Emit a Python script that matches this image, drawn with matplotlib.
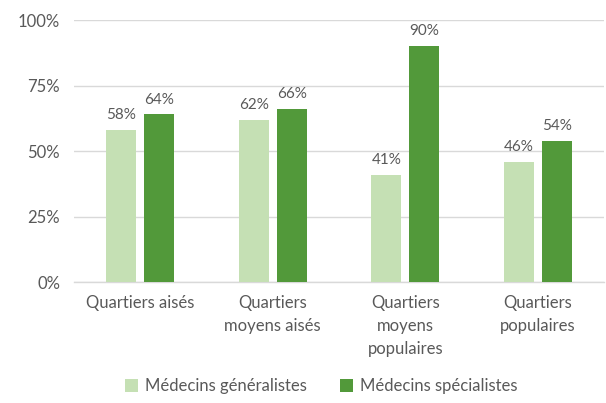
import numpy as np
import matplotlib
matplotlib.use("Agg")
import matplotlib.pyplot as plt

# Data
categories = ["Quartiers aisés", "Quartiers\nmoyens aisés", "Quartiers\nmoyens\npopulaires", "Quartiers\npopulaires"]
generalistes = [58, 62, 41, 46]
specialistes = [64, 66, 90, 54]
series_names = ["Médecins généralistes", "Médecins spécialistes"]
yticks = [0, 25, 50, 75, 100]

LIGHT = "#C5E0B4"
DARK = "#52993A"
TEXT = "#595959"

plt.rcParams["font.family"] = ["Lato", "DejaVu Sans"]

fig = plt.figure(figsize=(6.06, 4.03), dpi=100)
ax = fig.add_axes([0.122, 0.300, 0.875, 0.650])

x = np.arange(len(categories))
w = 0.225
off = 0.143
b1 = ax.bar(x - off, generalistes, w, color=LIGHT, label=series_names[0], zorder=3)
b2 = ax.bar(x + off, specialistes, w, color=DARK, label=series_names[1], zorder=3)

for bars, vals in ((b1, generalistes), (b2, specialistes)):
    for rect, v in zip(bars, vals):
        ax.text(rect.get_x() + rect.get_width() / 2, v + 3, f"{v}%",
                ha="center", va="bottom", fontsize=11, color=TEXT)

ax.set_xlim(-0.5, len(categories) - 0.5)
ax.set_ylim(0, 100)
ax.set_yticks(yticks)
ax.set_yticklabels([f"{t}%" for t in yticks])
ax.set_xticks(x)
ax.set_xticklabels(categories, linespacing=1.55)
ax.tick_params(axis="both", length=0, labelsize=12, colors=TEXT)
ax.tick_params(axis="y", pad=10)
ax.tick_params(axis="x", pad=9)
ax.grid(axis="y", color="#D9D9D9", linewidth=1, zorder=0)
for s in ["top", "right", "left"]:
    ax.spines[s].set_visible(False)
ax.spines["bottom"].set_color("#D9D9D9")
ax.spines["bottom"].set_linewidth(1)

fig.legend(loc="center", bbox_to_anchor=(0.53, 0.042), ncol=2, frameon=False,
           fontsize=12, labelcolor=TEXT, handlelength=0.8, handleheight=0.8,
           handletextpad=0.4, columnspacing=2.0)

fig.savefig("out.png", dpi=100)
